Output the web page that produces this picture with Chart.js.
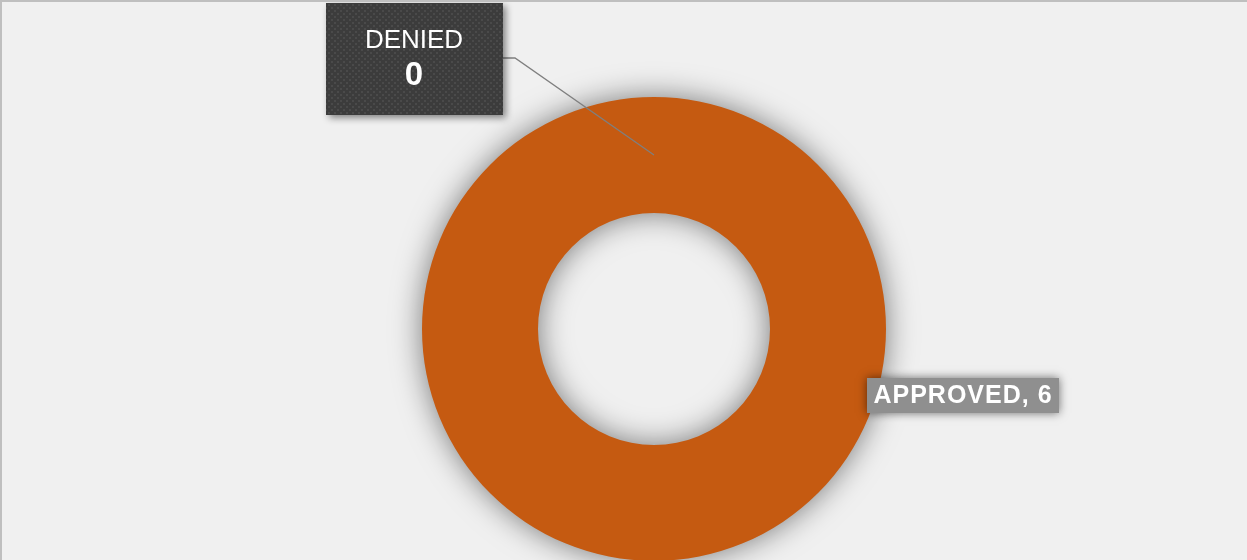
<!DOCTYPE html>
<html lang="en">
<head>
    <meta charset="UTF-8">
    <title>Approved vs Denied</title>
    <script src="https://cdn.jsdelivr.net/npm/chart.js"></script>
</head>
<body>
    <style>
        html, body { margin: 0; padding: 0; background: #f0f0f0; overflow: hidden; }
        #wrap {
            width: 1245px;
            height: 558px;
            border-top: 2px solid #bfbfbf;
            border-left: 2px solid #bfbfbf;
            overflow: hidden;
            position: relative;
        }
        #box { position: absolute; left: -2px; top: -2px; width: 1247px; height: 660px; }
    </style>
    <div id="wrap">
        <div id="box"><canvas id="myChart"></canvas></div>
    </div>

    <script>
        const categories = ['APPROVED', 'DENIED'];
        const counts = [6, 0];
        const colors = ['#c55a11', '#7f7f7f'];

        // dotted fill for the callout box
        function dotPattern(ctx) {
            const t = document.createElement('canvas');
            t.width = 6; t.height = 6;
            const c = t.getContext('2d');
            c.fillStyle = '#3c3c3c';
            c.fillRect(0, 0, 6, 6);
            c.fillStyle = '#4a4a4a';
            c.fillRect(1, 1, 2, 2);
            c.fillRect(4, 4, 2, 2);
            return ctx.createPattern(t, 'repeat');
        }

        const ringShadow = {
            id: 'ringShadow',
            beforeDatasetsDraw(chart) {
                const ctx = chart.ctx;
                ctx.save();
                ctx.shadowColor = 'rgba(0,0,0,0.5)';
                ctx.shadowBlur = 30;
            },
            afterDatasetsDraw(chart) {
                chart.ctx.restore();
            }
        };

        const callouts = {
            id: 'callouts',
            afterDraw(chart) {
                const ctx = chart.ctx;
                const meta = chart.getDatasetMeta(0);
                const denied = meta.data[1];
                const cx = denied.x, cy = denied.y;
                const mid = (denied.innerRadius + denied.outerRadius) / 2;
                const ang = denied.startAngle;
                const px = cx + Math.cos(ang) * mid;
                const py = cy + Math.sin(ang) * mid;

                // leader line
                ctx.save();
                ctx.strokeStyle = '#7f7f7f';
                ctx.lineWidth = 1.3;
                ctx.beginPath();
                ctx.moveTo(503, 58);
                ctx.lineTo(515, 58);
                ctx.lineTo(px, py);
                ctx.stroke();
                ctx.restore();

                // DENIED box
                ctx.save();
                ctx.shadowColor = 'rgba(0,0,0,0.45)';
                ctx.shadowBlur = 7;
                ctx.shadowOffsetX = 3;
                ctx.shadowOffsetY = 3;
                ctx.fillStyle = dotPattern(ctx);
                ctx.fillRect(326, 3, 177, 112);
                ctx.restore();

                ctx.save();
                ctx.fillStyle = '#ffffff';
                ctx.textAlign = 'center';
                ctx.textBaseline = 'middle';
                ctx.font = '26px "Liberation Sans", Arial, sans-serif';
                ctx.fillText(categories[1], 414, 41);
                ctx.font = 'bold 33px "Liberation Sans", Arial, sans-serif';
                ctx.fillText(String(counts[1]), 414, 76);
                ctx.restore();

                // APPROVED label
                const ax = cx + 308, ay = cy + 66;
                ctx.save();
                ctx.shadowColor = 'rgba(0,0,0,0.55)';
                ctx.shadowBlur = 9;
                ctx.fillStyle = '#8f8f8f';
                ctx.fillRect(ax - 95, ay - 17, 192, 35);
                ctx.restore();

                ctx.save();
                ctx.fillStyle = '#ffffff';
                ctx.textAlign = 'center';
                ctx.textBaseline = 'middle';
                ctx.letterSpacing = '1px';
                ctx.font = 'bold 25px "Liberation Sans", Arial, sans-serif';
                ctx.fillText(categories[0] + ', ' + counts[0], ax + 1, ay + 1);
                ctx.restore();
            }
        };

        const config = {
            type: 'doughnut',
            data: {
                labels: categories,
                datasets: [{
                    data: counts,
                    backgroundColor: colors,
                    borderWidth: 0
                }]
            },
            options: {
                responsive: true,
                maintainAspectRatio: false,
                animation: false,
                cutout: '50%',
                layout: {
                    padding: { left: 422, right: 361, top: 97, bottom: 99 }
                },
                plugins: {
                    legend: { display: false },
                    tooltip: { enabled: false }
                }
            },
            plugins: [ringShadow, callouts]
        };

        const ctx = document.getElementById('myChart').getContext('2d');
        const myChart = new Chart(ctx, config);
    </script>
</body>
</html>
